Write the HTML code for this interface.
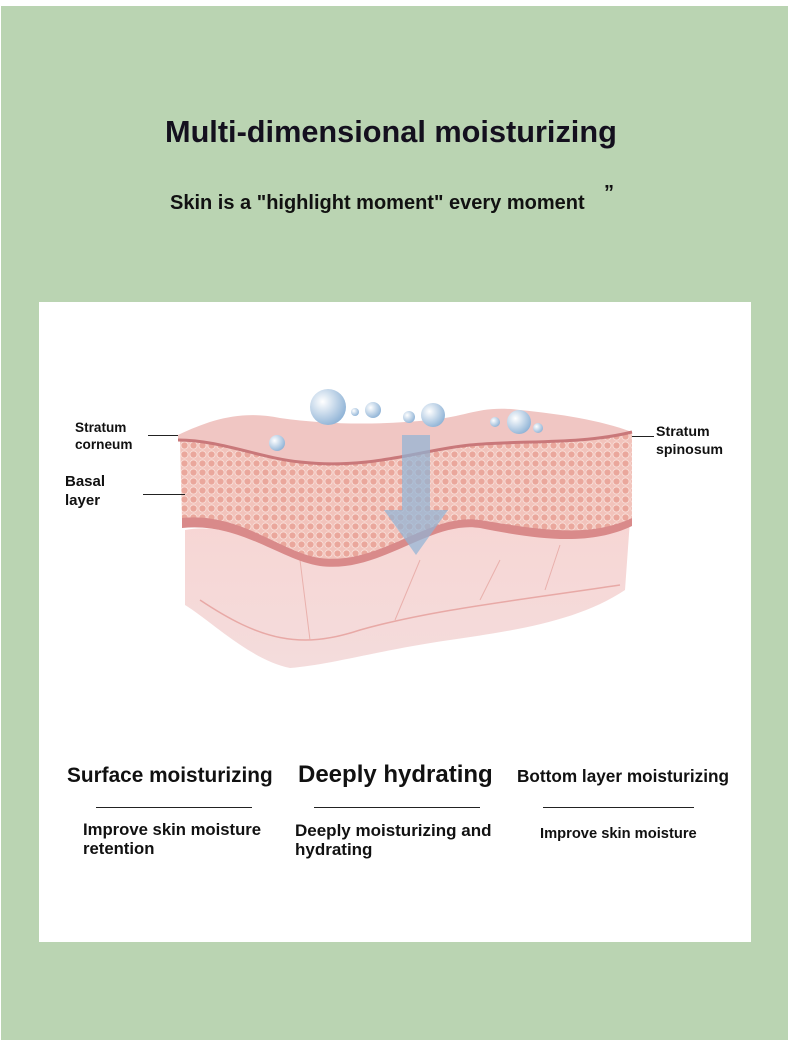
<!DOCTYPE html>
<html><head><meta charset="utf-8"><style>
body{margin:0;width:790px;height:1043px;background:#fff;position:relative;overflow:hidden;font-family:"Liberation Sans",sans-serif;}
.bg{position:absolute;left:1px;top:6px;width:787px;height:1034px;background:#bad4b2;}
.panel{position:absolute;left:39px;top:302px;width:712px;height:640px;background:#fff;}
.t{position:absolute;font-weight:bold;color:#111;white-space:nowrap;}
.line{position:absolute;height:1px;background:#222;}
</style></head><body>
<div class="bg"></div>
<div class="t" style="left:165px;top:114px;font-size:31px;color:#14101e;transform:scaleX(0.99);transform-origin:left">Multi-dimensional moisturizing</div>
<div class="t" style="left:170px;top:192px;font-size:20px;">Skin is a "highlight moment" every moment</div>
<div class="t" style="left:604px;top:182px;font-size:20px;">”</div>
<div class="panel"></div>
<svg style="position:absolute;left:0;top:0" width="790" height="1043">
<defs>
<linearGradient id="body" x1="0" y1="0" x2="0" y2="1"><stop offset="0" stop-color="#f7d6d4"/><stop offset="1" stop-color="#f4dcdc"/></linearGradient>
<pattern id="cells" width="9" height="9" patternUnits="userSpaceOnUse"><rect width="9" height="9" fill="#f2c3bb"/><circle cx="4.5" cy="4.5" r="3.6" fill="#eaa79c" stroke="#f8dcd6" stroke-width="1"/></pattern>
<radialGradient id="bub" cx="0.35" cy="0.35" r="0.7"><stop offset="0" stop-color="#fff"/><stop offset="1" stop-color="#8fb3d6"/></radialGradient>
</defs>
<path d="M185 530 C240 520 280 560 320 565 C380 572 430 520 480 528 C540 535 590 540 630 520 L625 590 C580 620 520 630 450 640 C380 650 330 665 290 668 C250 660 210 620 185 605 Z" fill="url(#body)"/>
<path d="M200 600 C260 640 300 650 360 630 C430 610 520 600 620 585" stroke="#e8a9a6" fill="none" stroke-width="1.5"/>
<path d="M300 560 L310 640 M420 560 L395 620 M500 560 L480 600 M560 545 L545 590" stroke="#e9b0ac" fill="none"/>
<path d="M180 440 C230 440 260 460 300 462 C360 465 410 435 460 430 C520 425 580 440 632 432 L632 520 C590 540 540 535 480 522 C430 515 380 570 320 560 C280 555 240 515 182 520 Z" fill="url(#cells)"/>
<path d="M182 518 C240 512 280 552 320 558 C380 566 430 512 480 520 C540 530 590 538 632 518 L632 526 C590 546 540 540 480 528 C430 520 380 574 320 566 C280 560 240 522 182 528 Z" fill="#d98a8a"/>
<path d="M178 435 C210 420 240 410 280 418 C330 425 380 425 430 420 C470 416 480 405 520 410 C560 414 600 420 632 432 C580 445 520 440 470 445 C420 450 370 470 300 462 C260 458 220 440 178 440 Z" fill="#f0c6c3"/>
<path d="M178 440 C220 440 260 458 300 462 C370 470 420 450 470 445 C520 440 580 445 632 432" stroke="#c9787a" stroke-width="3" fill="none"/>
<path d="M402 435 L430 435 L430 510 L448 510 L416 555 L384 510 L402 510 Z" fill="#8fb3d6" opacity="0.7"/>
<circle cx="328" cy="407" r="18" fill="url(#bub)"/>
<circle cx="355" cy="412" r="4" fill="url(#bub)"/>
<circle cx="373" cy="410" r="8" fill="url(#bub)"/>
<circle cx="409" cy="417" r="6" fill="url(#bub)"/>
<circle cx="433" cy="415" r="12" fill="url(#bub)"/>
<circle cx="277" cy="443" r="8" fill="url(#bub)"/>
<circle cx="495" cy="422" r="5" fill="url(#bub)"/>
<circle cx="519" cy="422" r="12" fill="url(#bub)"/>
<circle cx="538" cy="428" r="5" fill="url(#bub)"/>
</svg>
<div class="line" style="left:148px;top:435px;width:30px"></div>
<div class="line" style="left:143px;top:494px;width:42px"></div>
<div class="line" style="left:632px;top:436px;width:22px"></div>
<div class="t" style="left:75px;top:420px;font-size:13.6px;">Stratum</div>
<div class="t" style="left:75px;top:437px;font-size:13.6px;">corneum</div>
<div class="t" style="left:65px;top:472px;font-size:15px;line-height:19px">Basal<br>layer</div>
<div class="t" style="left:656px;top:423px;font-size:14.2px;line-height:18px">Stratum<br>spinosum</div>
<div class="t" style="left:67px;top:764px;font-size:20.8px;">Surface moisturizing</div>
<div class="t" style="left:298px;top:761px;font-size:24px;">Deeply hydrating</div>
<div class="t" style="left:517px;top:766px;font-size:17.2px;">Bottom layer moisturizing</div>
<div class="line" style="left:96px;top:807px;width:156px"></div>
<div class="line" style="left:314px;top:807px;width:166px"></div>
<div class="line" style="left:543px;top:807px;width:151px"></div>
<div class="t" style="left:83px;top:820px;font-size:16.7px;line-height:19px">Improve skin moisture<br>retention</div>
<div class="t" style="left:295px;top:821px;font-size:17px;line-height:19px">Deeply moisturizing and<br>hydrating</div>
<div class="t" style="left:540px;top:826px;font-size:14.7px;">Improve skin moisture</div>
</body></html>
